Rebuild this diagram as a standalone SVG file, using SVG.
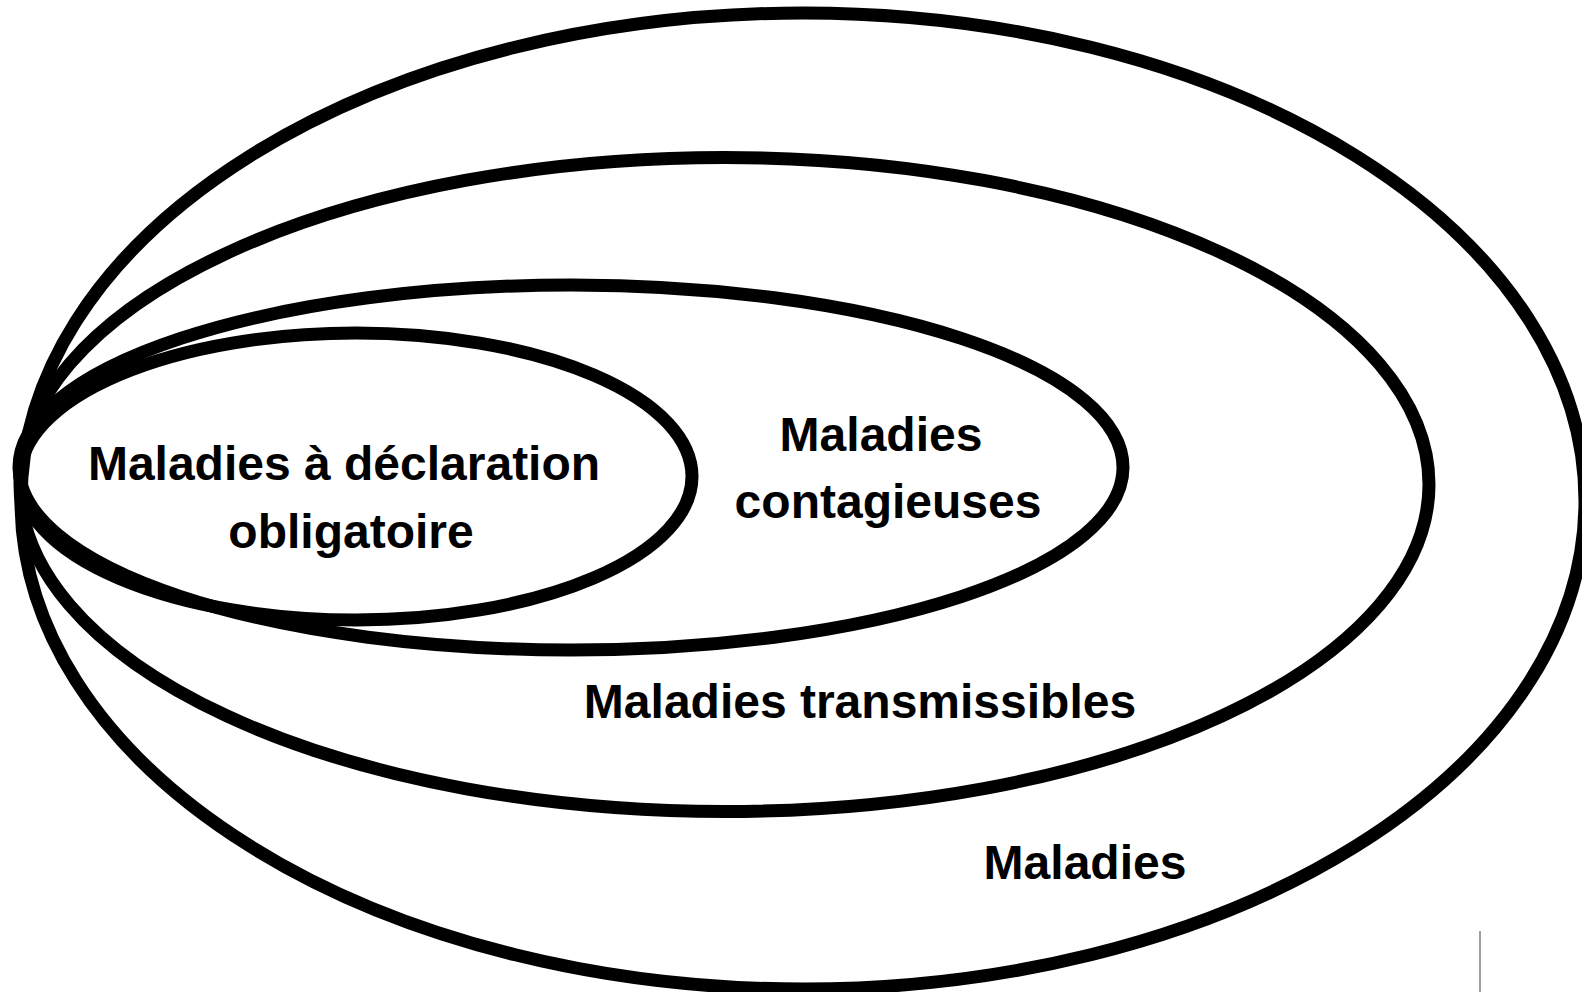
<svg xmlns="http://www.w3.org/2000/svg" width="1582" height="992" viewBox="0 0 1582 992">
<style>
.set{fill:none;stroke:#000;stroke-width:13}
.lbl{font-family:"Liberation Sans",Arial,sans-serif;font-weight:bold;font-size:48px;fill:#000;text-anchor:middle}
</style>
<rect width="1582" height="992" fill="#fff"/>
<g id="maladies">
<ellipse class="set" cx="803" cy="501" rx="782" ry="488"/>
<text class="lbl" x="1085" y="879">Maladies</text>
</g>
<g id="transmissibles">
<ellipse class="set" cx="724.5" cy="484.5" rx="704.5" ry="327"/>
<text class="lbl" x="860" y="718">Maladies transmissibles</text>
</g>
<g id="contagieuses">
<ellipse class="set" cx="571" cy="467.5" rx="552" ry="182.5"/>
<text class="lbl" x="881" y="451">Maladies</text>
<text class="lbl" x="888" y="518">contagieuses</text>
</g>
<g id="declaration">
<ellipse class="set" cx="356" cy="476.5" rx="336" ry="143.5"/>
<text class="lbl" x="344" y="480">Maladies à déclaration</text>
<text class="lbl" x="351" y="548">obligatoire</text>
</g>
<g id="connectors"></g>
<line x1="1480" y1="931" x2="1480" y2="992" stroke="#808080" stroke-width="1.5"/>
</svg>
